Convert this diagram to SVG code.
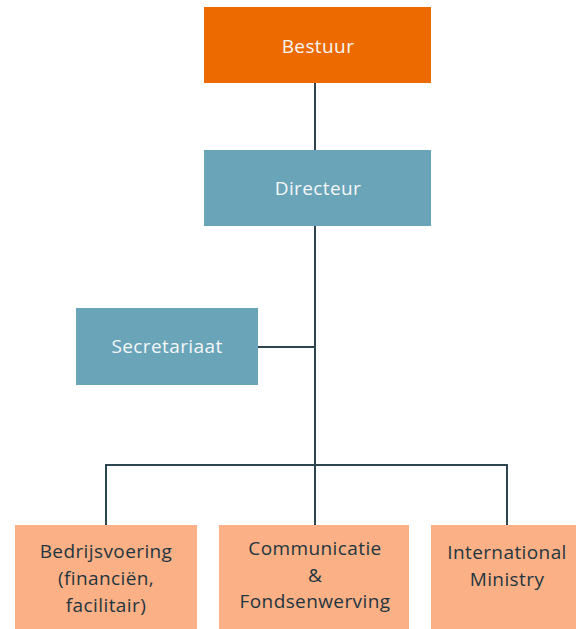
<svg xmlns="http://www.w3.org/2000/svg" width="576" height="629" viewBox="0 0 576 629">
<style>
.t{font-family:"Open Sans","Noto Sans","Liberation Sans",sans-serif;font-size:19px;letter-spacing:0.4px;text-anchor:middle;font-variant-ligatures:none}
.w{fill:#f4f7f8}
.d{fill:#1f3640}
.c{stroke:#2c4650;stroke-width:2;fill:none}
</style>
<rect width="576" height="629" fill="#ffffff"/>
<g id="connectors">
<path class="c" d="M315 83V525"/>
<path class="c" d="M258 347H315"/>
<path class="c" d="M106 525V465H507V525"/>
</g>
<g id="bestuur">
<rect x="204" y="7" width="227" height="76" fill="#ed6a00"/>
<text class="t w" x="318" y="53">Bestuur</text>
</g>
<g id="directeur">
<rect x="204" y="150" width="227" height="76" fill="#6aa4b8"/>
<text class="t w" x="318" y="195">Directeur</text>
</g>
<g id="secretariaat">
<rect x="76" y="308" width="182" height="77" fill="#6aa4b8"/>
<text class="t w" x="167" y="353">Secretariaat</text>
</g>
<g id="bedrijfsvoering">
<rect x="15" y="525" width="182" height="104" fill="#fbb085"/>
<text class="t d" x="106" y="558">Bedrijsvoering</text>
<text class="t d" x="106" y="585">(financiën,</text>
<text class="t d" x="106" y="612">facilitair)</text>
</g>
<g id="communicatie">
<rect x="219" y="525" width="190" height="104" fill="#fbb085"/>
<text class="t d" x="315" y="555">Communicatie</text>
<text class="t d" x="315" y="582">&amp;</text>
<text class="t d" x="315" y="608">Fondsenwerving</text>
</g>
<g id="international">
<rect x="431" y="525" width="152" height="104" fill="#fbb085"/>
<text class="t d" x="507" y="559">International</text>
<text class="t d" x="507" y="586">Ministry</text>
</g>
</svg>
